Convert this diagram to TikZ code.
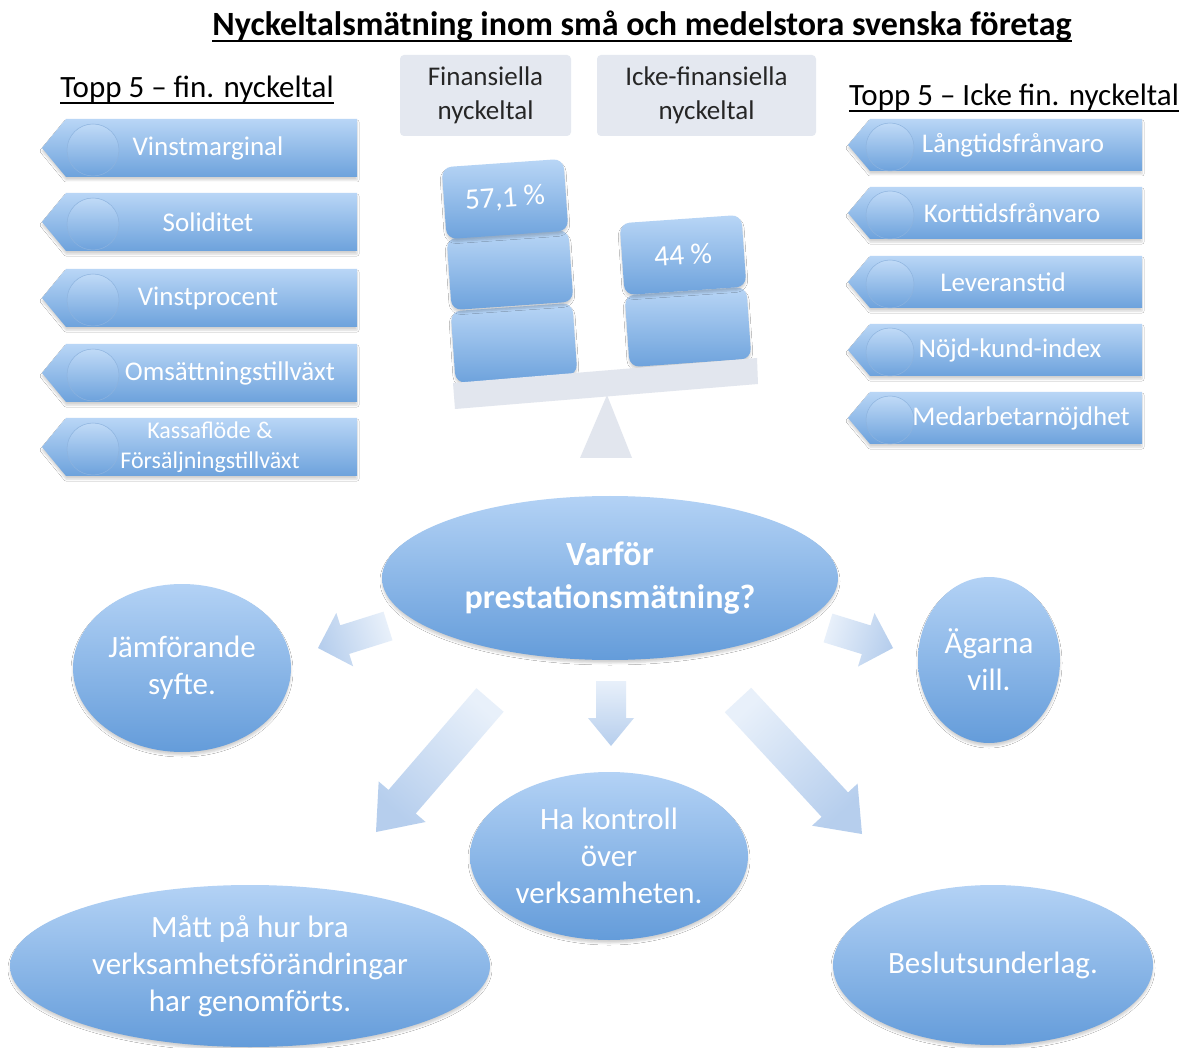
\documentclass[tikz,border=0pt]{standalone}
\usepackage{fontspec}
\setmainfont{Carlito}
\usetikzlibrary{shapes.geometric,calc,shadows.blur}
\definecolor{itemT}{HTML}{B9D6F6}
\definecolor{itemB}{HTML}{6DA2DC}
\definecolor{circE}{HTML}{8DB3DE}
\definecolor{ellT}{HTML}{B3D2F5}
\definecolor{ellB}{HTML}{649CDA}
\definecolor{arrL}{HTML}{E8F0FA}
\definecolor{arrD}{HTML}{B6CEED}
\definecolor{hdrF}{HTML}{E4E8F0}
\definecolor{plankF}{HTML}{E2E6EE}
\newcommand\fsz[2]{\fontsize{#1}{#2}\selectfont}
% left list item: name, y, x of text, text
\newcommand\fitem[4]{%
  \path[itemshape] (42,#2) -- (66,#2-29) -- (357,#2-29) -- (357,#2+29) -- (66,#2+29) -- cycle;
  \path[circshape] (93,#2+2) circle[radius=26];
  \node[itemtext] (#1) at (#3,#2) {#4};}
% right list item
\newcommand\nitem[4]{%
  \path[itemshape] (848,#2) -- (870,#2-26) -- (1142,#2-26) -- (1142,#2+26) -- (870,#2+26) -- cycle;
  \path[circshape] (890,#2+2) circle[radius=24];
  \node[itemtext] (#1) at (#3,#2) {#4};}
% block arrow: tail, tip, half shaft, half head, head length, shading angle
\newcommand\barrow[6]{%
  \coordinate (#1-hb) at ($(#2)!#5!(#1)$);
  \path[arrshape, shading angle=#6]
    ($(#1)!#3!90:(#2)$) -- ($(#1-hb)!#3!90:(#2)$) -- ($(#1-hb)!#4!90:(#2)$) -- (#2)
    -- ($(#1-hb)!#4!-90:(#2)$) -- ($(#1-hb)!#3!-90:(#2)$) -- ($(#1)!#3!-90:(#2)$) -- cycle;}
\begin{document}
\begin{tikzpicture}[x=1pt,y=-1pt,
  sh/.style={blur shadow={shadow xshift=0pt,shadow yshift=-3pt,shadow blur radius=2pt,shadow opacity=18}},
  itemshape/.style={top color=itemT,bottom color=itemB,sh},
  circshape/.style={top color=itemT!90!white,bottom color=itemB,draw=circE,line width=0.5pt},
  itemtext/.style={text=white,font=\fsz{27}{30},align=center,inner sep=0pt},
  hdr/.style={fill=hdrF,rounded corners=4pt,align=center,text=black!85,font=\fsz{27}{34},inner sep=0pt},
  blk/.style={rounded corners=10pt,top color=itemT,bottom color=itemB,minimum width=122pt,minimum height=72pt,rotate=4,text=white,font=\fsz{29.5}{30},sh},
  ell/.style={ellipse,top color=ellT,bottom color=ellB,text=white,align=center,inner sep=0pt,font=\fsz{31}{37},sh},
  arrshape/.style={top color=arrL,bottom color=arrD},
  heading/.style={font=\fsz{31}{33},anchor=base,inner sep=0pt}]
\fill[white] (0,0) rectangle (1187,1048);
\useasboundingbox (0,0) rectangle (1187,1048);

% title
\node[heading,font=\bfseries\fsz{34}{36}] (title) at (642,36) {Nyckeltalsmätning inom små och medelstora svenska företag};
\draw[line width=2.2pt] ([yshift=-5pt]title.base west) -- ([yshift=-5pt]title.base east);
\node[heading] (lhead) at (197,98) {Topp 5 – fin. nyckeltal};
\draw[line width=1.6pt] ([yshift=-5pt]lhead.base west) -- ([yshift=-5pt]lhead.base east);
\node[heading] (rhead) at (1014,106) {Topp 5 – Icke fin. nyckeltal};
\draw[line width=1.6pt] ([yshift=-5pt]rhead.base west) -- ([yshift=-5pt]rhead.base east);

% left list
\fitem{l1}{148}{208}{Vinstmarginal}
\fitem{l2}{222}{208}{Soliditet}
\fitem{l3}{298}{208}{Vinstprocent}
\fitem{l4}{373}{230}{Omsättningstillväxt}
\fitem{l5}{447}{210}{\fsz{24}{30}Kassaflöde \&\\\fsz{24}{30}Försäljningstillväxt}

% right list
\nitem{r1}{145}{1013}{Långtidsfrånvaro}
\nitem{r2}{213}{1012}{Korttidsfrånvaro}
\nitem{r3}{282}{1003}{Leveranstid}
\nitem{r4}{350}{1010}{Nöjd-kund-index}
\nitem{r5}{418}{1021}{Medarbetarnöjdhet}

% header boxes
\node[hdr,minimum width=171pt,minimum height=81pt] (fin) at (485.5,95.5) {Finansiella\\nyckeltal};
\node[hdr,minimum width=219pt,minimum height=81pt] (icke) at (706.5,95.5) {Icke-finansiella\\nyckeltal};

% balance
\fill[plankF] (607,395) -- (632,458) -- (580,458) -- cycle;
\node[blk] (b3) at (514,343) {};
\node[blk] (b2) at (510,270) {};
\node[blk] (b1) at (505,199) {57,1 \%};
\node[blk] (b5) at (688,327) {};
\node[blk] (b4) at (683,255) {44 \%};
\fill[plankF] (453,383) -- (757,358) -- (758,384) -- (455,409) -- cycle;

% ellipses
\node[ell,font=\bfseries\fsz{34}{43},minimum width=456pt,minimum height=164pt] (why) at (610,578) {Varför\\prestationsmätning?};
\node[ell,minimum width=218pt,minimum height=168pt] (jam) at (182,668) {Jämförande\\syfte.};
\node[ell,minimum width=142pt,minimum height=166pt] (aga) at (989,660) {Ägarna\\vill.};
\node[ell,minimum width=278pt,minimum height=168pt] (ha) at (609,856) {Ha kontroll\\över\\verksamheten.};
\node[ell,minimum width=480pt,minimum height=162pt] (matt) at (250,966) {Mått på hur bra\\verksamhetsförändringar\\har genomförts.};
\node[ell,minimum width=320pt,minimum height=160pt] (besl) at (993,965) {Beslutsunderlag.};

% block arrows
\coordinate (a1) at (388,626); \coordinate (a1e) at (318,648);
\coordinate (a2) at (828,628); \coordinate (a2e) at (893,648);
\coordinate (a3) at (611,681); \coordinate (a3e) at (611,746);
\coordinate (a4) at (490,700); \coordinate (a4e) at (376,832);
\coordinate (a5) at (738,700); \coordinate (a5e) at (862,834);
\barrow{a1}{a1e}{15pt}{28pt}{28pt}{-72}
\barrow{a2}{a2e}{15pt}{28pt}{28pt}{73}
\barrow{a3}{a3e}{15pt}{23pt}{28pt}{0}
\barrow{a4}{a4e}{18pt}{31pt}{40pt}{-41}
\barrow{a5}{a5e}{18pt}{31pt}{40pt}{43}
\end{tikzpicture}
\end{document}
